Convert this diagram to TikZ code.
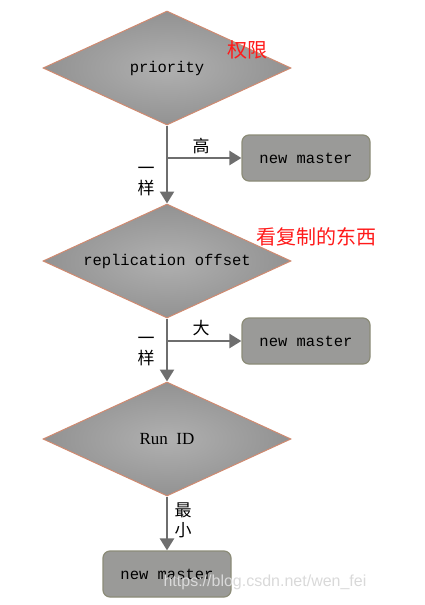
\documentclass[tikz,border=0pt]{standalone}
\usepackage{fontspec}
\setmonofont{Liberation Mono}
\setmainfont{Liberation Serif}
\newfontfamily\cjk{Noto Sans CJK SC}
\newfontfamily\websans{Liberation Sans}
\usetikzlibrary{shapes.geometric,arrows.meta,positioning}
\definecolor{diaedge}{HTML}{D08A70}
\definecolor{diain}{HTML}{B0B0B0}
\definecolor{diaout}{HTML}{929292}
\definecolor{boxfill}{HTML}{9A9A98}
\definecolor{boxedge}{HTML}{8C8C78}
\definecolor{flowgray}{HTML}{6E6E6E}
\definecolor{notered}{HTML}{FF1A1A}
\begin{document}
\begin{tikzpicture}[x=1pt, y=-1pt,
    decision/.style={diamond, draw=diaedge, line width=1pt, inner sep=0pt,
      minimum width=248pt, minimum height=114pt, aspect=2.2,
      shading=radial, inner color=diain, outer color=diaout, font=\ttfamily\fontsize{15.5}{16}\selectfont},
    result/.style={rectangle, rounded corners=7pt, draw=boxedge, line width=1.2pt, fill=boxfill,
      minimum width=128pt, minimum height=46pt, font=\ttfamily\fontsize{15.5}{16}\selectfont},
    flow/.style={draw=flowgray, line width=2.5pt, -{Triangle[length=12pt,width=14pt]}},
    branch/.style={font=\cjk\fontsize{17}{20}\selectfont},
    note/.style={font=\cjk\fontsize{20}{22}\selectfont, text=notered}]
  \useasboundingbox (0,0) rectangle (425,605);
  % decisions down the middle
  \node[decision] (prio) at (167,68) {priority};
  \node[decision] (repl) at (167,261) {replication offset};
  \node[decision, font=\rmfamily\fontsize{17}{17}\selectfont] (runid) at (167,439) {Run\ \ ID};
  % the outcomes
  \node[result] (mfirst) at (306,158) {new master};
  \node[result] (msecond) at (306,341) {new master};
  \node[result] (mthird) at (167,574) {new master};
  % main line
  \draw[flow] (prio.south) -- (repl.north);
  \draw[flow] (repl.south) -- (runid.north);
  \draw[flow] (runid.south) -- (mthird.north);
  % side branches
  \coordinate (bfirst) at (prio.south |- mfirst.west);
  \coordinate (bsecond) at (repl.south |- msecond.west);
  \draw[flow] (bfirst) -- (mfirst.west);
  \draw[flow] (bsecond) -- (msecond.west);
  % branch labels
  \node[branch] (lhigh) at (201,146) {高};
  \node[branch] (lbig) at (201,328) {大};
  \node[branch, align=center] (lsame1) at (146,182) {一\\样};
  \node[branch, align=center] (lsame2) at (146,352) {一\\样};
  \node[branch, align=center] (lleast) at (183,520) {最\\小};
  % red notes
  \node[note] (nprio) at (247,50) {权限};
  \node[note] (nrepl) at (316,237) {看复制的东西};
  % watermark
  \node[font=\websans\fontsize{16}{16}\selectfont, text=gray!30] (wmark) at (265,582) {https://blog.csdn.net/wen\_fei};
\end{tikzpicture}
\end{document}
